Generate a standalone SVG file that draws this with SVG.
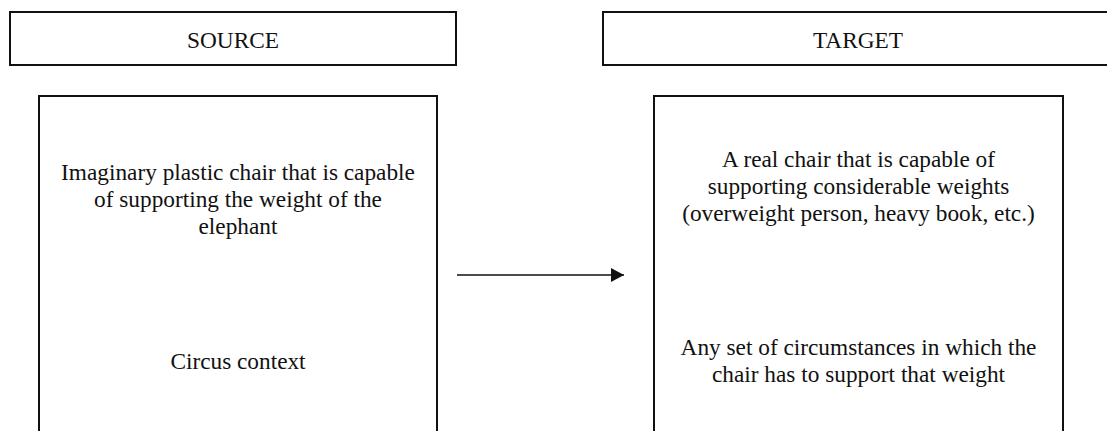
<svg xmlns="http://www.w3.org/2000/svg" width="1107" height="431" viewBox="0 0 1107 431">
<style>
.box{fill:#fff;stroke:#111;stroke-width:2}
.t{font-family:"Liberation Serif","Times New Roman",serif;font-size:23.3px;fill:#111;text-anchor:middle}
.conn{stroke:#111;stroke-width:1.5;fill:none}
</style>
<defs>
<marker id="ah" markerWidth="13" markerHeight="14" refX="13" refY="7" orient="auto" markerUnits="userSpaceOnUse">
<path d="M0,0 L13,7 L0,14 Z" fill="#111"/>
</marker>
</defs>
<rect width="1107" height="431" fill="#fff"/>
<g id="source-header">
<rect class="box" x="10" y="12" width="446" height="53"/>
<text class="t" x="233" y="48">SOURCE</text>
</g>
<g id="target-header">
<rect class="box" x="603" y="12" width="520" height="53"/>
<text class="t" x="858" y="48">TARGET</text>
</g>
<g id="source">
<rect class="box" x="39" y="96" width="398" height="345"/>
<text class="t" x="238" y="180">Imaginary plastic chair that is capable</text>
<text class="t" x="238" y="207">of supporting the weight of the</text>
<text class="t" x="238" y="234">elephant</text>
<text class="t" x="238" y="369">Circus context</text>
</g>
<g id="target">
<rect class="box" x="654" y="96" width="409" height="345"/>
<text class="t" x="858.5" y="167">A real chair that is capable of</text>
<text class="t" x="858.5" y="194">supporting considerable weights</text>
<text class="t" x="858.5" y="221">(overweight person, heavy book, etc.)</text>
<text class="t" x="858.5" y="355">Any set of circumstances in which the</text>
<text class="t" x="858.5" y="382">chair has to support that weight</text>
</g>
<g id="connectors">
<line class="conn" x1="457" y1="275" x2="624" y2="275" marker-end="url(#ah)"/>
</g>
</svg>
